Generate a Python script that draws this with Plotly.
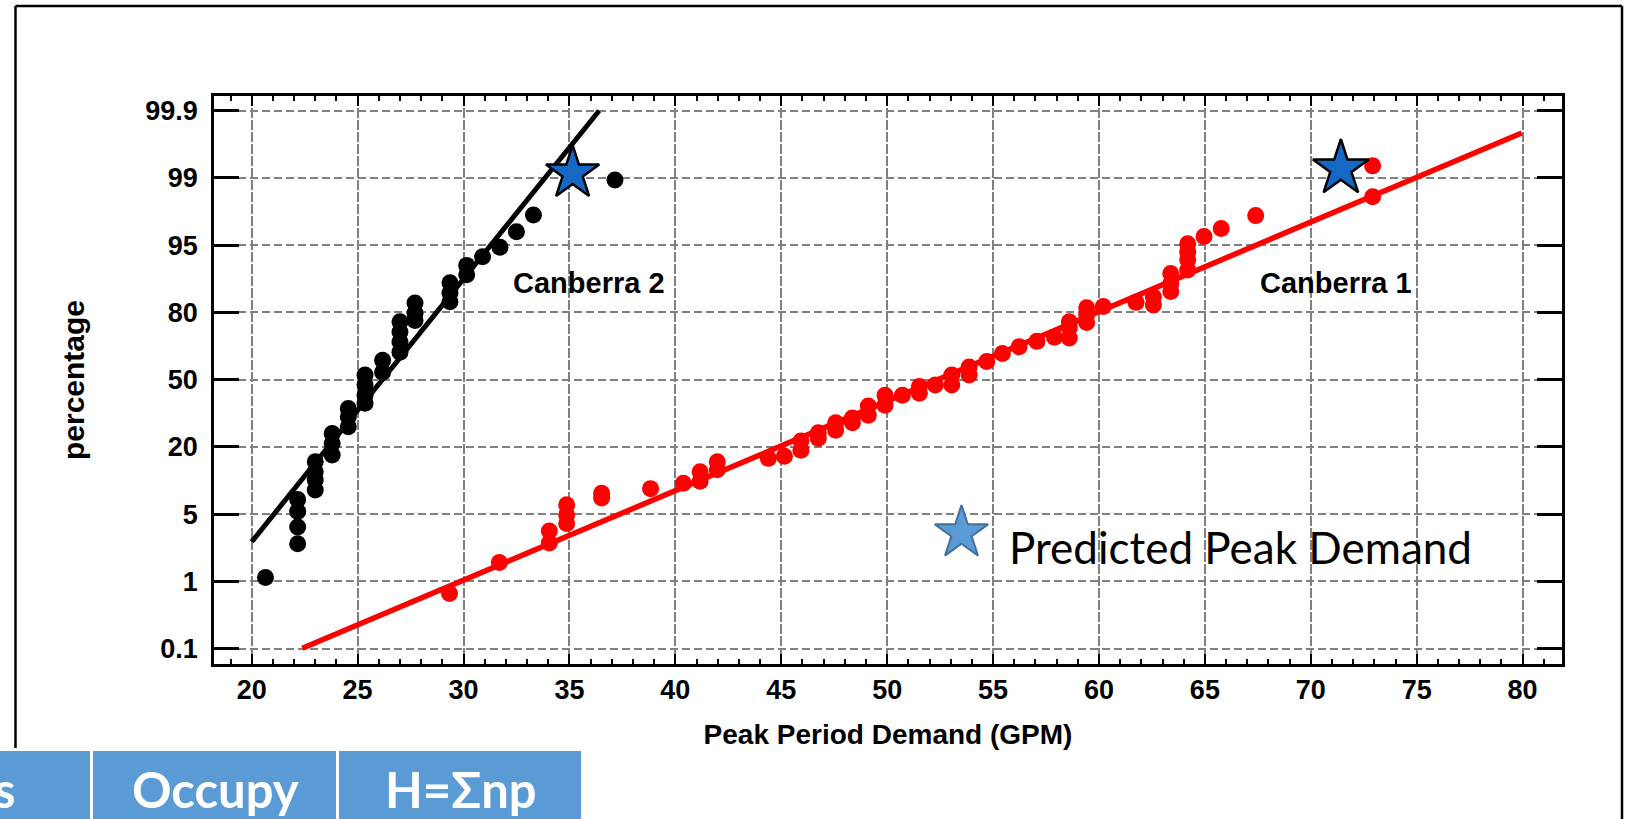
import plotly.graph_objects as go

# ---------------- data ----------------
# y values are positions on the (equally spaced) probability scale:
# 0 -> 0.1 %, 1 -> 1 %, 2 -> 5 %, 3 -> 20 %, 4 -> 50 %, 5 -> 80 %, 6 -> 95 %, 7 -> 99 %, 8 -> 99.9 %
y_tick_pos = [0, 1, 2, 3, 4, 5, 6, 7, 8]
y_tick_labels = ["0.1", "1", "5", "20", "50", "80", "95", "99", "99.9"]
x_tick_vals = [20, 25, 30, 35, 40, 45, 50, 55, 60, 65, 70, 75, 80]

canberra2_x = [20.65,
               22.17, 22.17, 22.17, 22.17,
               23.0, 23.0, 23.0, 23.0,
               23.8, 23.8, 23.8,
               24.56, 24.56, 24.56,
               25.35, 25.35, 25.35, 25.35,
               26.18, 26.18,
               27.0, 27.0, 27.0, 27.0,
               27.71, 27.71, 27.71,
               29.36, 29.36, 29.36,
               30.15, 30.15,
               30.9, 31.72, 32.5, 33.3, 37.15]
canberra2_y = [1.06,
               1.56, 1.81, 2.04, 2.22,
               2.36, 2.51, 2.63, 2.78,
               2.88, 3.05, 3.20,
               3.30, 3.45, 3.57,
               3.65, 3.77, 3.92, 4.07,
               4.11, 4.29,
               4.41, 4.56, 4.71, 4.86,
               4.88, 4.99, 5.14,
               5.16, 5.29, 5.44,
               5.56, 5.70,
               5.83, 5.97, 6.20, 6.45, 6.97]

canberra1_x = [29.34, 31.69,
               34.05, 34.05,
               34.87, 34.87, 34.87,
               36.52, 36.52,
               38.83, 40.38,
               41.17, 41.17,
               41.98, 41.98,
               44.39, 45.15,
               45.93, 45.93,
               46.75, 46.75,
               47.57, 47.57,
               48.36, 48.36,
               49.11, 49.11,
               49.9, 49.9,
               50.72,
               51.52, 51.52,
               52.27,
               53.05, 53.05,
               53.87, 53.87,
               54.7, 55.44, 56.23, 57.07, 57.9,
               58.6, 58.6, 58.6,
               59.42, 59.42, 59.42,
               60.2, 61.75,
               62.57, 62.57,
               63.39, 63.39, 63.39,
               64.19, 64.19, 64.19, 64.19,
               64.96, 65.77, 67.4,
               72.92, 72.92]
canberra1_y = [0.82, 1.28,
               1.57, 1.75,
               1.86, 1.99, 2.14,
               2.24, 2.31,
               2.38, 2.46,
               2.49, 2.63,
               2.66, 2.78,
               2.83, 2.86,
               2.95, 3.09,
               3.13, 3.21,
               3.25, 3.36,
               3.36, 3.43,
               3.47, 3.61,
               3.62, 3.77,
               3.77,
               3.80, 3.90,
               3.92,
               3.92, 4.07,
               4.07, 4.19,
               4.27, 4.39, 4.49, 4.57, 4.63,
               4.62, 4.77, 4.86,
               4.85, 4.97, 5.07,
               5.09, 5.15,
               5.11, 5.23,
               5.31, 5.43, 5.58,
               5.63, 5.78, 5.90, 6.02,
               6.13, 6.25, 6.44,
               6.72, 7.18]

fit2_x = [20.0, 36.4]
fit2_y = [1.59, 8.0]
fit1_x = [22.39, 79.96]
fit1_y = [0.006, 7.67]

predicted_x = [35.15, 71.42]
predicted_y = [7.07, 7.14]

legend_star_x = [53.51]
legend_star_y = [1.72]

table_labels = ["s", "Occupy", "H=Σnp"]

# ---------------- layout geometry (pixels) ----------------
W, H = 1632, 819
L, R, T, B = 214, 1562, 96, 664


def px(x):
    return (x - L) / (R - L)


def py(y):
    return (B - y) / (B - T)


BOLD = "Liberation Sans, Arial, sans-serif"
CAL = "Lato, Noto Sans, sans-serif"

fig = go.Figure()

fig.add_trace(go.Scatter(x=fit2_x, y=fit2_y, mode="lines",
                         line=dict(color="black", width=5), showlegend=False))
fig.add_trace(go.Scatter(x=fit1_x, y=fit1_y, mode="lines",
                         line=dict(color="#FF0000", width=5.5), showlegend=False))
fig.add_trace(go.Scatter(x=canberra2_x, y=canberra2_y, mode="markers",
                         marker=dict(color="black", size=17, opacity=1, line=dict(width=0)),
                         showlegend=False))
fig.add_trace(go.Scatter(x=canberra1_x, y=canberra1_y, mode="markers",
                         marker=dict(color="#FF0000", size=17, opacity=1, line=dict(width=0)),
                         showlegend=False))
fig.add_trace(go.Scatter(x=predicted_x, y=predicted_y, mode="markers",
                         marker=dict(symbol="star", color="#1568C4", size=[40, 42], opacity=1,
                                     line=dict(color="black", width=2.5)),
                         showlegend=False))
fig.add_trace(go.Scatter(x=legend_star_x, y=legend_star_y, mode="markers",
                         marker=dict(symbol="star", color="#5B9BD5", size=40, opacity=1,
                                     line=dict(color="#41719C", width=2)),
                         showlegend=False))

annotations = [
    dict(x=35.93, y=5.44, xref="x", yref="y", text="Canberra 2", showarrow=False,
         xanchor="center", yanchor="middle",
         font=dict(family=BOLD, size=29, color="black", weight="bold")),
    dict(x=71.17, y=5.44, xref="x", yref="y", text="Canberra 1", showarrow=False,
         xanchor="center", yanchor="middle",
         font=dict(family=BOLD, size=29, color="black", weight="bold")),
    dict(x=55.65, y=1.51, xref="x", yref="y", text="Predicted Peak Demand", showarrow=False,
         xanchor="left", yanchor="middle",
         font=dict(family=CAL, size=44, color="black")),
]

# bottom blue table
table_cells = [(0, 90), (93, 336), (339, 581)]
shapes = []
for (a, b) in table_cells:
    shapes.append(dict(type="rect", xref="paper", yref="paper",
                       x0=px(a), x1=px(b), y0=py(830), y1=py(751),
                       fillcolor="#5B9BD5", line=dict(width=0), layer="above"))
table_text_x = [18, 215, 461]
table_anchor = ["right", "center", "center"]
for lab, tx, anc in zip(table_labels, table_text_x, table_anchor):
    annotations.append(dict(x=px(tx), y=py(789), xref="paper", yref="paper",
                            xanchor=anc, yanchor="middle",
                            text=lab, showarrow=False,
                            font=dict(family=CAL, size=49, color="white", weight="bold")))

# outer frame
for (x0, y0, x1, y1) in [(15.5, 6, 1622, 6), (15.5, 6, 15.5, 748), (1622, 6, 1622, 830)]:
    shapes.append(dict(type="line", xref="paper", yref="paper",
                       x0=px(x0), y0=py(y0), x1=px(x1), y1=py(y1),
                       line=dict(color="black", width=2.5), layer="above"))

fig.update_layout(
    width=W, height=H,
    margin=dict(l=L, r=W - R, t=T, b=H - B, pad=0),
    paper_bgcolor="white", plot_bgcolor="white",
    annotations=annotations, shapes=shapes,
    showlegend=False,
)

fig.update_xaxes(
    range=[18.22, 81.86], tickmode="array", tickvals=x_tick_vals,
    ticks="inside", ticklen=10, tickwidth=2, tickcolor="black",
    minor=dict(ticks="inside", dtick=1, tick0=20, ticklen=5, tickwidth=1.5, tickcolor="black",
               showgrid=False),
    showline=True, linecolor="black", linewidth=2.5, mirror="allticks",
    showgrid=True, gridcolor="#808080", gridwidth=1.6, griddash="10px,2px",
    zeroline=False,
    tickfont=dict(family=BOLD, size=27, color="black", weight="bold"),
    ticklabelstandoff=0,
    title=dict(text="Peak Period Demand (GPM)", standoff=21,
               font=dict(family=BOLD, size=28, color="black", weight="bold")),
)
fig.update_yaxes(
    range=[-0.228, 8.219], tickmode="array", tickvals=y_tick_pos, ticktext=y_tick_labels,
    ticks="inside", ticklen=25, tickwidth=3, tickcolor="black",
    showline=True, linecolor="black", linewidth=2.5, mirror="allticks",
    showgrid=True, gridcolor="#808080", gridwidth=1.6, griddash="8px,4px",
    zeroline=False,
    tickfont=dict(family=BOLD, size=27, color="black", weight="bold"),
    ticklabelstandoff=8,
    title=dict(text="percentage", standoff=52,
               font=dict(family=BOLD, size=30, color="black", weight="bold")),
)

fig.write_html("out.html", config={"displayModeBar": False},
               post_script="document.body.style.margin='0px';")
